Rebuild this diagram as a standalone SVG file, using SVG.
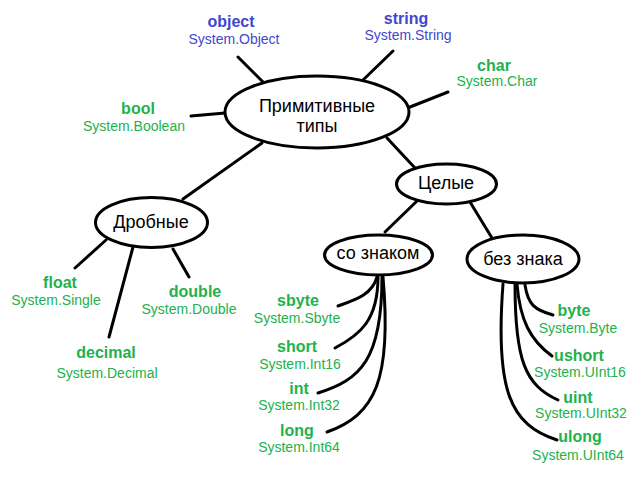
<svg xmlns="http://www.w3.org/2000/svg" width="642" height="488" viewBox="0 0 642 488">
<style>
.bg{fill:#fff}
.n{fill:#fff;stroke:#000;stroke-width:3}
.c{fill:none;stroke:#000;stroke-width:3;stroke-linecap:round}
.t{font-family:"Liberation Sans",Arial,sans-serif;font-size:18px;fill:#000;text-anchor:middle}
.k{font-family:"Liberation Sans",Arial,sans-serif;font-size:16px;font-weight:bold;text-anchor:middle}
.s{font-family:"Liberation Sans",Arial,sans-serif;font-size:14px;text-anchor:middle}
.g{fill:#22b14c}
.b{fill:#3f48cc}
</style>
<rect class="bg" width="642" height="488"/>
<g id="connectors">
<line class="c" x1="238" y1="57" x2="263" y2="82"/>
<line class="c" x1="393" y1="51" x2="363" y2="80"/>
<line class="c" x1="448" y1="92" x2="410" y2="107"/>
<line class="c" x1="191" y1="116" x2="225" y2="113"/>
<line class="c" x1="262" y1="143" x2="183" y2="199"/>
<line class="c" x1="387" y1="138" x2="415" y2="168"/>
<line class="c" x1="106" y1="240" x2="75" y2="268"/>
<line class="c" x1="133" y1="247" x2="109" y2="337"/>
<line class="c" x1="173" y1="249" x2="189" y2="277"/>
<line class="c" x1="417" y1="201" x2="385" y2="232"/>
<line class="c" x1="470" y1="202" x2="492" y2="238"/>
<path class="c" d="M377,277 C372,295 355,300 338,306"/>
<path class="c" d="M378,277 C378,320 360,335 335,348"/>
<path class="c" d="M382,277 C382,360 360,380 318,393"/>
<path class="c" d="M383,277 C392,380 375,415 327,432"/>
<path class="c" d="M525,285 C528,305 535,310 553,315"/>
<path class="c" d="M517,284 C520,320 530,340 552,356"/>
<path class="c" d="M515,284 C515,360 525,385 558,400"/>
<path class="c" d="M503,284 C495,390 510,425 557,440"/>
</g>
<g id="primitive">
<ellipse class="n" cx="317" cy="112" rx="92" ry="36"/>
<text class="t" x="317" y="112">Примитивные</text>
<text class="t" x="317" y="132">типы</text>
</g>
<g id="fractional">
<ellipse class="n" cx="151.5" cy="222.5" rx="56" ry="25"/>
<text class="t" x="151" y="228">Дробные</text>
</g>
<g id="integer">
<ellipse class="n" cx="446.5" cy="184" rx="50" ry="20"/>
<text class="t" x="446" y="189">Целые</text>
</g>
<g id="signed">
<ellipse class="n" cx="378.5" cy="255" rx="54" ry="20"/>
<text class="t" x="378" y="259">со знаком</text>
</g>
<g id="unsigned">
<ellipse class="n" cx="523" cy="259" rx="56" ry="24"/>
<text class="t" x="523" y="265">без знака</text>
</g>
<g id="object"><text class="k b" x="231" y="27">object</text><text class="s b" x="234" y="44">System.Object</text></g>
<g id="string"><text class="k b" x="406" y="24">string</text><text class="s b" x="408" y="40">System.String</text></g>
<g id="char"><text class="k g" x="494" y="71">char</text><text class="s g" x="497" y="86">System.Char</text></g>
<g id="bool"><text class="k g" x="138" y="114">bool</text><text class="s g" x="134" y="131">System.Boolean</text></g>
<g id="float"><text class="k g" x="60" y="288">float</text><text class="s g" x="56" y="305">System.Single</text></g>
<g id="double"><text class="k g" x="195" y="297">double</text><text class="s g" x="189" y="314">System.Double</text></g>
<g id="decimal"><text class="k g" x="106" y="358">decimal</text><text class="s g" x="107" y="378">System.Decimal</text></g>
<g id="sbyte"><text class="k g" x="298" y="306">sbyte</text><text class="s g" x="297" y="323">System.Sbyte</text></g>
<g id="short"><text class="k g" x="297" y="352">short</text><text class="s g" x="300" y="369">System.Int16</text></g>
<g id="int"><text class="k g" x="299" y="394">int</text><text class="s g" x="299" y="410">System.Int32</text></g>
<g id="long"><text class="k g" x="297" y="436">long</text><text class="s g" x="299" y="452">System.Int64</text></g>
<g id="byte"><text class="k g" x="574" y="316">byte</text><text class="s g" x="578" y="333">System.Byte</text></g>
<g id="ushort"><text class="k g" x="579" y="361">ushort</text><text class="s g" x="580" y="377">System.UInt16</text></g>
<g id="uint"><text class="k g" x="578" y="403">uint</text><text class="s g" x="581" y="418">System.UInt32</text></g>
<g id="ulong"><text class="k g" x="580" y="442">ulong</text><text class="s g" x="578" y="460">System.UInt64</text></g>
</svg>
